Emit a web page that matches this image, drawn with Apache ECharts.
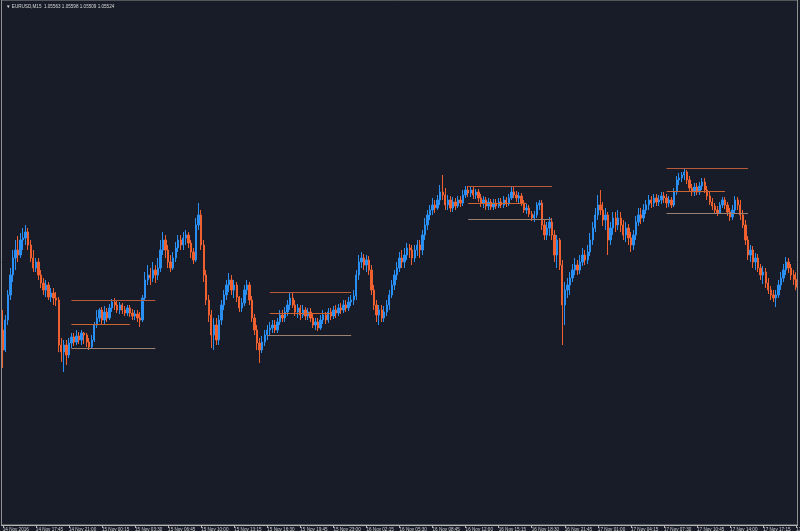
<!DOCTYPE html>
<html><head><meta charset="utf-8">
<style>html,body{margin:0;padding:0;background:#181c28;}#c{width:800px;height:531px;}</style>
<script src="https://cdn.jsdelivr.net/npm/echarts@6/dist/echarts.min.js"></script>
</head><body><div id="c"></div>
<script>
const symbolName = 'EURUSD,M15';
const tickLabels = ['14 Nov 2016','14 Nov 17:45','14 Nov 21:00','15 Nov 00:15','15 Nov 03:30','15 Nov 06:45','15 Nov 10:00','15 Nov 13:15','15 Nov 16:30','15 Nov 19:45','15 Nov 23:00','16 Nov 02:15','16 Nov 05:30','16 Nov 08:45','16 Nov 12:00','16 Nov 15:15','16 Nov 18:30','16 Nov 21:45','17 Nov 01:00','17 Nov 04:15','17 Nov 07:30','17 Nov 10:45','17 Nov 14:00','17 Nov 17:15','17 Nov 20:30'];
// [open, close, low, high]
const ohlc = [
[1.0531,1.0521,1.0512,1.0541],[1.0521,1.0536,1.052,1.05385],[1.0536,1.05485,1.05335,1.0551],[1.05485,1.05585,1.0546,1.0562],[1.05585,1.0567,1.0555,1.0571],
[1.0567,1.0571,1.0561,1.0576],[1.0571,1.05685,1.0565,1.0578],[1.05685,1.0576,1.0567,1.05795],[1.0576,1.0577,1.0571,1.0582],[1.0577,1.058,1.05735,1.05835],
[1.058,1.05735,1.0571,1.0582],[1.05735,1.0567,1.0565,1.0576],[1.0567,1.0562,1.056,1.0571],[1.0562,1.0565,1.056,1.0567],[1.0565,1.05585,1.0556,1.0567],
[1.05585,1.05545,1.0552,1.0561],[1.05545,1.0551,1.05485,1.0557],[1.0551,1.05535,1.05475,1.0556],[1.05535,1.05475,1.0546,1.0555],[1.05475,1.05495,1.0545,1.0552],
[1.05495,1.0547,1.05435,1.0552],[1.0547,1.0546,1.0543,1.055],[1.0546,1.05235,1.052,1.05475],[1.05235,1.052,1.0515,1.0527],[1.052,1.05235,1.051,1.0526],
[1.05235,1.05185,1.05135,1.0526],[1.05185,1.05245,1.0517,1.0527],[1.05245,1.05275,1.0522,1.05295],[1.05275,1.0525,1.0523,1.05295],[1.0525,1.0528,1.05235,1.0531],
[1.0528,1.0526,1.0524,1.053],[1.0526,1.05295,1.05235,1.0531],[1.05295,1.05285,1.0524,1.053],[1.05285,1.0525,1.05225,1.05295],[1.0525,1.05225,1.0521,1.0527],
[1.05225,1.0526,1.05215,1.05285],[1.0526,1.05335,1.0525,1.0535],[1.05335,1.0537,1.0532,1.0541],[1.0537,1.0541,1.0535,1.0542],[1.0541,1.0536,1.05335,1.05425],
[1.0536,1.054,1.05335,1.0543],[1.054,1.0537,1.0535,1.0542],[1.0537,1.0542,1.0536,1.0544],[1.0542,1.0545,1.054,1.05465],[1.0545,1.05435,1.0541,1.0547],
[1.05435,1.0541,1.05395,1.0546],[1.0541,1.05435,1.0539,1.0545],[1.05435,1.0541,1.0539,1.05445],[1.0541,1.05395,1.0538,1.0543],[1.05395,1.0542,1.0538,1.05435],
[1.0542,1.05395,1.05375,1.05435],[1.05395,1.0538,1.0536,1.05415],[1.0538,1.0539,1.0536,1.0541],[1.0539,1.0537,1.0535,1.0541],[1.0537,1.0536,1.05325,1.054],
[1.0536,1.0547,1.0535,1.05485],[1.0547,1.0556,1.0546,1.056],[1.0556,1.05585,1.05535,1.05635],[1.05585,1.0557,1.05535,1.0562],[1.0557,1.0561,1.0555,1.0565],
[1.0561,1.05585,1.05545,1.05635],[1.05585,1.0562,1.0556,1.0567],[1.0562,1.0571,1.056,1.0576],[1.0571,1.0576,1.05685,1.058],[1.0576,1.0571,1.0567,1.05785],
[1.0571,1.0565,1.0562,1.05735],[1.0565,1.0562,1.056,1.05685],[1.0562,1.0567,1.0561,1.057],[1.0567,1.0572,1.0565,1.0575],[1.0572,1.0576,1.057,1.05785],
[1.0576,1.05735,1.0571,1.05785],[1.05735,1.0577,1.0571,1.058],[1.0577,1.05785,1.05735,1.0581],[1.05785,1.05745,1.0572,1.058],[1.05745,1.057,1.0567,1.0576],
[1.057,1.0566,1.0564,1.0572],[1.0566,1.05835,1.0565,1.0587],[1.05835,1.05885,1.0581,1.05945],[1.05885,1.05735,1.0571,1.0591],[1.05735,1.05585,1.0555,1.0576],
[1.05585,1.0546,1.05435,1.0561],[1.0546,1.05385,1.0535,1.05485],[1.05385,1.05285,1.0522,1.0541],[1.05285,1.05335,1.0521,1.0537],[1.05335,1.0526,1.05235,1.0537],
[1.0526,1.0536,1.05235,1.05385],[1.0536,1.05435,1.05335,1.0546],[1.05435,1.05485,1.0541,1.0551],[1.05485,1.05535,1.0546,1.0556],[1.05535,1.0556,1.055,1.05595],
[1.0556,1.0551,1.05485,1.05585],[1.0551,1.05535,1.0547,1.0556],[1.05535,1.05475,1.0545,1.0555],[1.05475,1.0542,1.054,1.0548],[1.0542,1.05445,1.054,1.0547],
[1.05445,1.0551,1.0543,1.05535],[1.0551,1.05535,1.05485,1.0556],[1.05535,1.0546,1.05435,1.0555],[1.0546,1.0537,1.0535,1.0548],[1.0537,1.0531,1.05285,1.0539],
[1.0531,1.05245,1.0521,1.05335],[1.05245,1.0521,1.05145,1.0527],[1.0521,1.0525,1.05195,1.0528],[1.0525,1.05285,1.0523,1.0531],[1.05285,1.0531,1.0526,1.05335],
[1.0531,1.0532,1.05285,1.0535],[1.0532,1.05335,1.05295,1.0536],[1.05335,1.0531,1.05295,1.0536],[1.0531,1.0535,1.05295,1.0537],[1.0535,1.05385,1.05335,1.0541],
[1.05385,1.0537,1.0535,1.0541],[1.0537,1.054,1.0535,1.05425],[1.054,1.05435,1.0538,1.0546],[1.05435,1.0547,1.0541,1.055],[1.0547,1.05435,1.0542,1.05495],
[1.05435,1.054,1.0538,1.0546],[1.054,1.0542,1.0537,1.0544],[1.0542,1.05385,1.0536,1.05435],[1.05385,1.0541,1.0537,1.05435],[1.0541,1.0538,1.0536,1.05425],
[1.0538,1.054,1.0536,1.0542],[1.054,1.0537,1.0535,1.0542],[1.0537,1.05335,1.0532,1.0539],[1.05335,1.0535,1.0531,1.0537],[1.0535,1.0532,1.05305,1.0537],
[1.0532,1.0536,1.0531,1.05385],[1.0536,1.05385,1.0534,1.0541],[1.05385,1.0536,1.0534,1.054],[1.0536,1.054,1.05345,1.0542],[1.054,1.0538,1.0536,1.0542],
[1.0538,1.0541,1.05365,1.0543],[1.0541,1.05395,1.0537,1.05435],[1.05395,1.0542,1.0538,1.0544],[1.0542,1.0541,1.0539,1.05445],[1.0541,1.05435,1.05395,1.0546],
[1.05435,1.0542,1.054,1.0546],[1.0542,1.0545,1.05405,1.05475],[1.0545,1.0546,1.0543,1.05485],[1.0546,1.0548,1.05435,1.0551],[1.0548,1.05585,1.0546,1.0561],
[1.05585,1.0565,1.0556,1.05685],[1.0565,1.0567,1.0562,1.057],[1.0567,1.05635,1.0561,1.0569],[1.05635,1.0566,1.056,1.05685],[1.0566,1.0561,1.05585,1.0568],
[1.0561,1.0551,1.05485,1.05635],[1.0551,1.05435,1.0541,1.05535],[1.05435,1.05385,1.0535,1.0546],[1.05385,1.0541,1.05335,1.05435],[1.0541,1.0537,1.0535,1.05435],
[1.0537,1.054,1.0535,1.0543],[1.054,1.05435,1.0538,1.0546],[1.05435,1.05485,1.0541,1.0551],[1.05485,1.05535,1.0547,1.0556],[1.05535,1.05585,1.0551,1.0561],
[1.05585,1.0562,1.0556,1.0565],[1.0562,1.0567,1.056,1.057],[1.0567,1.0565,1.0562,1.0571],[1.0565,1.05685,1.0562,1.0572],[1.05685,1.0572,1.0566,1.05745],
[1.0572,1.0571,1.0567,1.0574],[1.0571,1.0567,1.05635,1.05735],[1.0567,1.0571,1.0565,1.05735],[1.0571,1.05735,1.0568,1.0576],[1.05735,1.0571,1.0567,1.0576],
[1.0571,1.05785,1.05685,1.0581],[1.05785,1.05835,1.0576,1.0587],[1.05835,1.05885,1.0581,1.0591],[1.05885,1.0591,1.0586,1.05935],[1.0591,1.05935,1.05885,1.0597],
[1.05935,1.0592,1.05895,1.0596],[1.0592,1.0596,1.0591,1.05985],[1.0596,1.06,1.05935,1.06035],[1.06,1.05985,1.0596,1.06085],[1.05985,1.05935,1.0591,1.0602],
[1.05935,1.0596,1.0591,1.05985],[1.0596,1.0592,1.059,1.0598],[1.0592,1.0595,1.059,1.05975],[1.0595,1.0593,1.0591,1.0597],[1.0593,1.0596,1.0592,1.0598],
[1.0596,1.05945,1.05925,1.0598],[1.05945,1.05985,1.0593,1.0601],[1.05985,1.0601,1.0597,1.0603],[1.0601,1.05995,1.05975,1.0603],[1.05995,1.0601,1.05975,1.06025],
[1.0601,1.05985,1.05965,1.06025],[1.05985,1.06,1.05965,1.06015],[1.06,1.0597,1.0595,1.06015],[1.0597,1.05945,1.05925,1.0599],[1.05945,1.0596,1.0592,1.0598],
[1.0596,1.0593,1.0591,1.05975],[1.0593,1.0595,1.0591,1.0597],[1.0595,1.05925,1.0591,1.05965],[1.05925,1.05945,1.0591,1.05965],[1.05945,1.0593,1.05915,1.05965],
[1.0593,1.0595,1.0592,1.0597],[1.0595,1.05935,1.0592,1.0597],[1.05935,1.0596,1.0592,1.0598],[1.0596,1.0594,1.05925,1.05975],[1.0594,1.0597,1.0593,1.0599],
[1.0597,1.06,1.0596,1.0603],[1.06,1.05985,1.0597,1.06025],[1.05985,1.0597,1.0595,1.06005],[1.0597,1.0598,1.05945,1.06],[1.0598,1.05945,1.0593,1.05995],
[1.05945,1.0591,1.05895,1.0596],[1.0591,1.0592,1.0589,1.0594],[1.0592,1.0589,1.05875,1.05935],[1.0589,1.0587,1.05855,1.05905],[1.0587,1.05885,1.0585,1.05905],
[1.05885,1.05935,1.0587,1.0595],[1.05935,1.05945,1.0591,1.0596],[1.05945,1.05835,1.0581,1.0596],[1.05835,1.05785,1.0576,1.0586],[1.05785,1.0582,1.0576,1.0585],
[1.0582,1.0585,1.0578,1.05875],[1.0585,1.05785,1.0576,1.0587],[1.05785,1.05685,1.0565,1.0581],[1.05685,1.0576,1.0562,1.05785],[1.0576,1.05635,1.0561,1.0577],
[1.05635,1.05435,1.05235,1.0566],[1.05435,1.0551,1.05335,1.0555],[1.0551,1.05535,1.0547,1.0557],[1.05535,1.0557,1.05485,1.056],[1.0557,1.0561,1.0555,1.0564],
[1.0561,1.05635,1.05585,1.0567],[1.05635,1.0561,1.05585,1.0566],[1.0561,1.0565,1.0559,1.05685],[1.0565,1.05685,1.0563,1.0572],[1.05685,1.0566,1.05635,1.0571],
[1.0566,1.057,1.0564,1.05735],[1.057,1.0576,1.0568,1.05795],[1.0576,1.0582,1.05735,1.0585],[1.0582,1.05885,1.058,1.0592],[1.05885,1.05935,1.0586,1.05985],
[1.05935,1.0591,1.05885,1.0601],[1.0591,1.0586,1.0583,1.0595],[1.0586,1.05885,1.0581,1.0592],[1.05885,1.0576,1.05685,1.059],[1.0576,1.0582,1.05735,1.0585],
[1.0582,1.0587,1.05785,1.059],[1.0587,1.05835,1.058,1.059],[1.05835,1.0587,1.0581,1.0591],[1.0587,1.05835,1.058,1.059],[1.05835,1.05785,1.0576,1.0586],
[1.05785,1.0582,1.0575,1.0585],[1.0582,1.0577,1.05735,1.0584],[1.0577,1.05735,1.057,1.058],[1.05735,1.05785,1.0571,1.0581],[1.05785,1.0585,1.0576,1.0588],
[1.0585,1.05885,1.0583,1.0592],[1.05885,1.0587,1.0584,1.0592],[1.0587,1.0591,1.0585,1.0594],[1.0591,1.05935,1.0589,1.0596],[1.05935,1.0596,1.0591,1.05985],
[1.0596,1.05945,1.0592,1.0598],[1.05945,1.0597,1.05925,1.0599],[1.0597,1.0595,1.0593,1.0599],[1.0595,1.0596,1.0593,1.05985],[1.0596,1.0598,1.0594,1.06],
[1.0598,1.0597,1.05945,1.06],[1.0597,1.05945,1.0592,1.0599],[1.05945,1.0596,1.05925,1.0598],[1.0596,1.05935,1.0592,1.05975],[1.05935,1.06,1.05925,1.0602],
[1.06,1.0606,1.05985,1.0608],[1.0606,1.0607,1.06035,1.06095],[1.0607,1.06085,1.0605,1.061],[1.06085,1.061,1.0606,1.0612],[1.061,1.0606,1.0604,1.0611],
[1.0606,1.0602,1.06,1.0608],[1.0602,1.06,1.0598,1.0604],[1.06,1.06025,1.0598,1.06045],[1.06025,1.06,1.05985,1.06045],[1.06,1.0603,1.05985,1.0605],
[1.0603,1.0605,1.0601,1.0607],[1.0605,1.0601,1.05995,1.0607],[1.0601,1.0598,1.0596,1.0603],[1.0598,1.0595,1.05935,1.06],[1.0595,1.0593,1.0591,1.0597],
[1.0593,1.0591,1.05895,1.05945],[1.0591,1.05895,1.0588,1.0593],[1.05895,1.05935,1.0589,1.0595],[1.05935,1.0596,1.0592,1.05975],[1.0596,1.05935,1.05915,1.05975],
[1.05935,1.059,1.0588,1.0595],[1.059,1.05875,1.05855,1.0592],[1.05875,1.0591,1.0586,1.05935],[1.0591,1.0596,1.05895,1.0598],[1.0596,1.05935,1.0591,1.05975],
[1.05935,1.05885,1.0586,1.0596],[1.05885,1.05835,1.0582,1.0591],[1.05835,1.0576,1.05735,1.0586],[1.0576,1.05685,1.0566,1.0578],[1.05685,1.0571,1.0565,1.05735],
[1.0571,1.0565,1.0562,1.0573],[1.0565,1.0567,1.0561,1.05695],[1.0567,1.0562,1.056,1.0569],[1.0562,1.05585,1.0556,1.0564],[1.05585,1.056,1.0554,1.0563],
[1.056,1.05545,1.0552,1.0562],[1.05545,1.0551,1.0549,1.0557],[1.0551,1.05485,1.0546,1.0553],[1.05485,1.0547,1.0545,1.0551],[1.0547,1.05485,1.05425,1.0551],
[1.05485,1.05535,1.0547,1.0556],[1.05535,1.0557,1.0551,1.056],[1.0557,1.0561,1.0555,1.0564],[1.0561,1.0565,1.05585,1.05675],[1.0565,1.0562,1.05595,1.0567],
[1.0562,1.05585,1.0556,1.0564],[1.05585,1.05563,1.05535,1.0561],[1.05563,1.05524,1.05509,1.05598]
];
// horizontal level segments: price, first bar, last bar (top / middle / bottom of each box)
const levelPrice = [1.0546,1.0534,1.0522, 1.055,1.05395,1.05285, 1.0603,1.05945,1.05865, 1.0612,1.06005,1.05895];
const levelFrom  = [27,27,27, 105,105,104, 183,183,183, 261,261,261];
const levelTo    = [60,50,60, 137,129,137, 216,206,216, 293,284,293];

const categories = ohlc.map((_, i) => String(i));
const levelColors = ['#b95b3a', '#c9632f', '#9c8070'];
const markData = levelPrice.map((p, k) => [
  {coord: [levelFrom[k], p], lineStyle: {color: levelColors[k % 3], width: 1, type: 'solid'}},
  {coord: [levelTo[k], p]}
]);
const last = ohlc[ohlc.length - 1];
const titleText = '\u25BC ' + symbolName + '  ' + [last[0], last[3], last[2], last[1]].map(v => v.toFixed(5)).join(' ');

const chart = echarts.init(document.getElementById('c'), null, {renderer: 'canvas'});
chart.setOption({
  animation: false,
  backgroundColor: '#181c28',
  title: {text: titleText, left: 1, top: -1, textStyle: {color: '#d8d8d8', fontSize: 4.6, fontWeight: 'normal', fontFamily: 'Liberation Sans'}},
  grid: {left: 1.5, right: 2.5, top: 0, bottom: 6, containLabel: false, outerBoundsMode: 'none', show: true, borderColor: '#8f8f8f', borderWidth: 1},
  xAxis: {
    type: 'category', data: categories, boundaryGap: true,
    axisLine: {show: true, lineStyle: {color: '#b4b4b4', width: 1}},
    axisTick: {show: true, alignWithLabel: true, interval: 12, length: 3, lineStyle: {color: '#b4b4b4'}},
    axisLabel: {show: true, interval: 12, align: 'left', margin: 2, fontSize: 4.6, fontFamily: 'Liberation Sans', color: '#cfcfcf',
      hideOverlap: false, formatter: (v, idx) => tickLabels[Math.round(idx / 13)] || ''},
    splitLine: {show: false}
  },
  yAxis: {type: 'value', min: 1.04335, max: 1.0696, show: false, splitLine: {show: false}},
  series: [{
    type: 'candlestick', data: ohlc, barWidth: '72%',
    itemStyle: {color: '#2a8ff2', color0: '#ef6030', borderColor: '#2a8ff2', borderColor0: '#ef6030', borderWidth: 1},
    markLine: {silent: true, symbol: ['none', 'none'], label: {show: false}, data: markData}
  }]
});
</script>
</body></html>
